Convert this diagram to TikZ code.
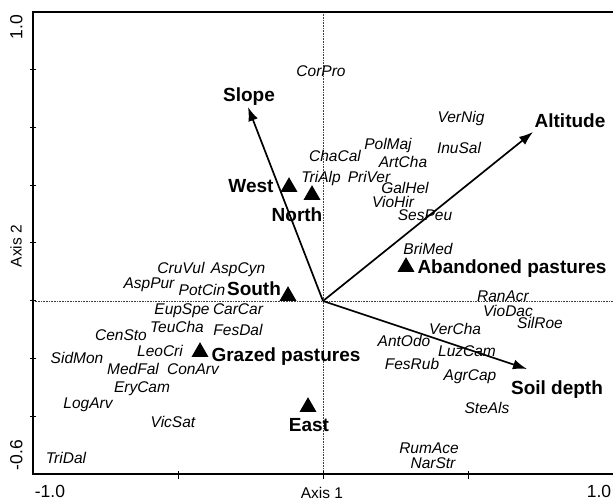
\documentclass[tikz,border=0pt]{standalone}
\usepackage{fontspec}
\setmainfont{Liberation Sans}
\usetikzlibrary{arrows.meta,shapes.geometric}
\begin{document}
\begin{tikzpicture}[x=1pt,y=-1pt,
  sp/.style={font=\fontsize{15.5}{16}\selectfont\itshape, inner sep=0pt, text height=11pt, text depth=0pt, anchor=center},
  lbl/.style={font=\fontsize{19}{20}\selectfont\bfseries, inner sep=0pt, text height=13.7pt, text depth=0pt, anchor=center},
  tri/.style={regular polygon, regular polygon sides=3, fill=black, inner sep=0pt, minimum size=19.6pt},
  axlbl/.style={font=\fontsize{15.5}{16}\selectfont, inner sep=0pt, text height=11.1pt, text depth=0pt},
  ticklbl/.style={font=\fontsize{17.5}{18}\selectfont, inner sep=0pt, text height=12.6pt, text depth=0pt},
  frame/.style={line width=2pt},
  guide/.style={densely dotted, line width=0.6pt, black!75},
  vec/.style={line width=1.7pt, -{Latex[length=14pt,width=10pt]}}]
\useasboundingbox (0,0) rectangle (613,502);
% coordinates of frame
\coordinate (tl) at (33,12);
\coordinate (tr) at (613,12);
\coordinate (bl) at (33,474);
\coordinate (br) at (613,474);
\coordinate (o) at (323,301);
\coordinate (vt) at (323,12);
\coordinate (vb) at (323,474);
\coordinate (hl) at (33,301);
\coordinate (hr) at (613,301);
% guides
\draw[guide] (vt) -- (vb);
\draw[guide] (hl) -- (hr);
% frame
\draw[frame] (tr) -- (tl) -- (bl) -- (br);
\foreach \k in {1,...,7} {\draw[line width=1pt] (30,{12+57.75*\k}) -- (36,{12+57.75*\k});}
\foreach \xx in {178,323,468} {\draw[line width=1pt] (\xx,471) -- (\xx,479);}
% axis labels
\node[ticklbl, rotate=90] (y1) at (16,27) {1.0};
\node[axlbl, rotate=90] (ax2) at (16,246) {Axis 2};
\node[ticklbl, rotate=90] (y2) at (16,455) {-0.6};
\node[ticklbl] (x1) at (50,491) {-1.0};
\node[axlbl] (ax1) at (322,493) {Axis 1};
\node[ticklbl] (x2) at (599,491) {1.0};
% vectors
\coordinate (slopetip) at (248,107);
\coordinate (alttip) at (533,132);
\coordinate (soiltip) at (527,369);
\draw[vec] (o) -- (slopetip);
\draw[vec] (o) -- (alttip);
\draw[vec] (o) -- (soiltip);
% triangles
\node[tri] (tW) at (289,187) {};
\node[tri] (tN) at (312,195) {};
\node[tri] (tS) at (288,296) {};
\node[tri] (tG) at (200,352) {};
\node[tri] (tE) at (308,407) {};
\node[tri] (tA) at (406,267) {};
% bold labels
\node[lbl] (Slope) at (249,95) {Slope};
\node[lbl] (West) at (251,186) {West};
\node[lbl] (North) at (297,215) {North};
\node[lbl] (South) at (254,289) {South};
\node[lbl] (Grazed) at (286,355) {Grazed pastures};
\node[lbl] (East) at (309,425) {East};
\node[lbl] (Aband) at (512,267) {Abandoned pastures};
\node[lbl] (Alt) at (570,121) {Altitude};
\node[lbl] (Soil) at (557,388) {Soil depth};
% species
\node[sp] (CorPro) at (321,71) {CorPro};
\node[sp] (ChaCal) at (335,156) {ChaCal};
\node[sp] (TriAlp) at (321,177) {TriAlp};
\node[sp] (PolMaj) at (388,144) {PolMaj};
\node[sp] (ArtCha) at (403,162) {ArtCha};
\node[sp] (PriVer) at (369,177) {PriVer};
\node[sp] (GalHel) at (405,188) {GalHel};
\node[sp] (VioHir) at (393,202) {VioHir};
\node[sp] (SesPeu) at (425,215) {SesPeu};
\node[sp] (VerNig) at (461,117) {VerNig};
\node[sp] (InuSal) at (459,148) {InuSal};
\node[sp] (BriMed) at (428,249) {BriMed};
\node[sp] (RanAcr) at (503,296) {RanAcr};
\node[sp] (VioDac) at (508,311) {VioDac};
\node[sp] (SilRoe) at (540,323) {SilRoe};
\node[sp] (VerCha) at (455,329) {VerCha};
\node[sp] (AntOdo) at (404,341) {AntOdo};
\node[sp] (LuzCam) at (467,351) {LuzCam};
\node[sp] (FesRub) at (412,364) {FesRub};
\node[sp] (AgrCap) at (470,375) {AgrCap};
\node[sp] (SteAls) at (487,408) {SteAls};
\node[sp] (RumAce) at (429,448) {RumAce};
\node[sp] (NarStr) at (433,463) {NarStr};
\node[sp] (CruVul) at (181,268) {CruVul};
\node[sp] (AspCyn) at (238,268) {AspCyn};
\node[sp] (AspPur) at (149,283) {AspPur};
\node[sp] (PotCin) at (202,290) {PotCin};
\node[sp] (EupSpe) at (182,309) {EupSpe};
\node[sp] (CarCar) at (238,309) {CarCar};
\node[sp] (TeuCha) at (177,327) {TeuCha};
\node[sp] (FesDal) at (238,330) {FesDal};
\node[sp] (CenSto) at (121,335) {CenSto};
\node[sp] (LeoCri) at (160,351) {LeoCri};
\node[sp] (SidMon) at (77,358) {SidMon};
\node[sp] (MedFal) at (133,369) {MedFal};
\node[sp] (ConArv) at (193,369) {ConArv};
\node[sp] (EryCam) at (142,387) {EryCam};
\node[sp] (LogArv) at (88,403) {LogArv};
\node[sp] (VicSat) at (173,422) {VicSat};
\node[sp] (TriDal) at (66,458) {TriDal};
\end{tikzpicture}
\end{document}
